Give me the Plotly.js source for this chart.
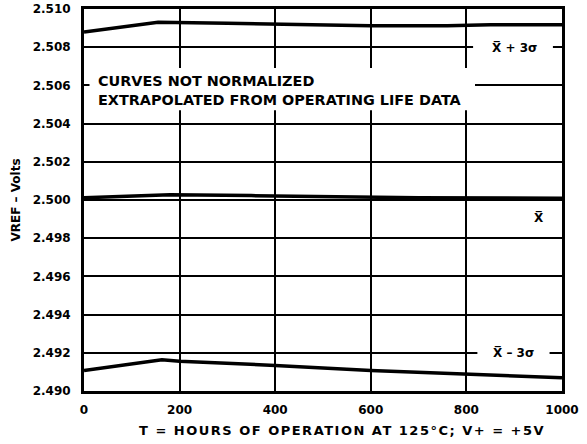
<!DOCTYPE html>
<html>
<head>
<meta charset="utf-8">
<script src="https://cdn.plot.ly/plotly-3.0.1.min.js"></script>
<style>html,body{margin:0;padding:0;background:#fff}</style>
</head>
<body>
<div id="chart" style="width:587px;height:444px"></div>
<script>
// Hours of operation
const hoursUpper = [0, 100, 155, 300, 480, 600, 760, 850, 1000];
const vrefUpper  = [2.5088, 2.50912, 2.5093, 2.50925, 2.50917, 2.50912, 2.50912, 2.50917, 2.50917];

const hoursMean = [0, 100, 180, 350, 500, 700, 1000];
const vrefMean  = [2.50012, 2.50022, 2.50027, 2.50023, 2.50017, 2.50012, 2.50009];

const hoursLower = [0, 163, 200, 400, 600, 800, 1000];
const vrefLower  = [2.49107, 2.49163, 2.49156, 2.49134, 2.49107, 2.49087, 2.49069];

const curveLabels = ['X\u0305 + 3\u03c3', 'X\u0305', 'X\u0305 \u2013 3\u03c3'];
const noteLines = ['CURVES NOT NORMALIZED', 'EXTRAPOLATED FROM OPERATING LIFE DATA'];
const xTitle = 'T = HOURS OF OPERATION AT 125°C; V+ = +5V';
const yTitle = 'VREF \u2013 Volts';

const FONT = 'DejaVu Sans, Arial, sans-serif';
const lineStyle = {color: '#000', width: 3.5};

const traces = [
  {x: hoursUpper, y: vrefUpper, mode: 'lines', line: lineStyle, hoverinfo: 'skip'},
  {x: hoursMean, y: vrefMean, mode: 'lines', line: lineStyle, hoverinfo: 'skip'},
  {x: hoursLower, y: vrefLower, mode: 'lines', line: lineStyle, hoverinfo: 'skip'}
];

const whiteBox = (x0, x1, y0, y1) => ({
  type: 'rect', xref: 'x', yref: 'y', x0: x0, x1: x1, y0: y0, y1: y1,
  fillcolor: '#fff', line: {width: 0}, layer: 'above'
});
const bold = (size) => ({family: FONT, size: size, color: '#000', weight: 'bold'});

const layout = {
  width: 587, height: 444,
  margin: {l: 84, r: 25, t: 9, b: 53},
  paper_bgcolor: '#fff', plot_bgcolor: '#fff',
  showlegend: false,
  font: bold(12),
  xaxis: {
    range: [0, 1000], dtick: 200, tick0: 0,
    showgrid: true, gridcolor: '#000', gridwidth: 2,
    showline: true, linecolor: '#000', linewidth: 3, mirror: true,
    zeroline: false, ticks: '', ticklabelstandoff: 6,
    tickfont: bold(12)
  },
  yaxis: {
    range: [2.490, 2.510], dtick: 0.002, tick0: 2.490, tickformat: '.3f',
    showgrid: true, gridcolor: '#000', gridwidth: 2,
    showline: true, linecolor: '#000', linewidth: 3, mirror: true,
    zeroline: false, ticks: '', ticklabelstandoff: 8,
    tickfont: bold(12),
    title: {text: yTitle, standoff: 10, font: bold(12)}
  },
  shapes: [
    whiteBox(11.5, 818, 2.5047, 2.50691),
    whiteBox(814, 981, 2.50759, 2.50843),
    whiteBox(823, 974, 2.49162, 2.49244)
  ],
  annotations: [
    {x: 25, y: 2.50623, xref: 'x', yref: 'y', text: noteLines[0], showarrow: false,
     xanchor: 'left', yanchor: 'middle', font: bold(14.4)},
    {x: 25, y: 2.50524, xref: 'x', yref: 'y', text: noteLines[1], showarrow: false,
     xanchor: 'left', yanchor: 'middle', font: bold(14.4)},
    {x: 900, y: 2.50795, xref: 'x', yref: 'y', text: curveLabels[0], showarrow: false,
     xanchor: 'center', yanchor: 'middle', font: bold(12)},
    {x: 951, y: 2.49905, xref: 'x', yref: 'y', text: curveLabels[1], showarrow: false,
     xanchor: 'center', yanchor: 'middle', font: bold(12)},
    {x: 899, y: 2.49197, xref: 'x', yref: 'y', text: curveLabels[2], showarrow: false,
     xanchor: 'center', yanchor: 'middle', font: bold(12)},
    {x: 0.54, y: 0, xref: 'paper', yref: 'paper', yshift: -39,
     text: '<span style="letter-spacing:1.5px">' + xTitle + '</span>', showarrow: false,
     xanchor: 'center', yanchor: 'middle', font: bold(13)}
  ]
};

Plotly.newPlot('chart', traces, layout, {displayModeBar: false, staticPlot: true});
</script>
</body>
</html>
